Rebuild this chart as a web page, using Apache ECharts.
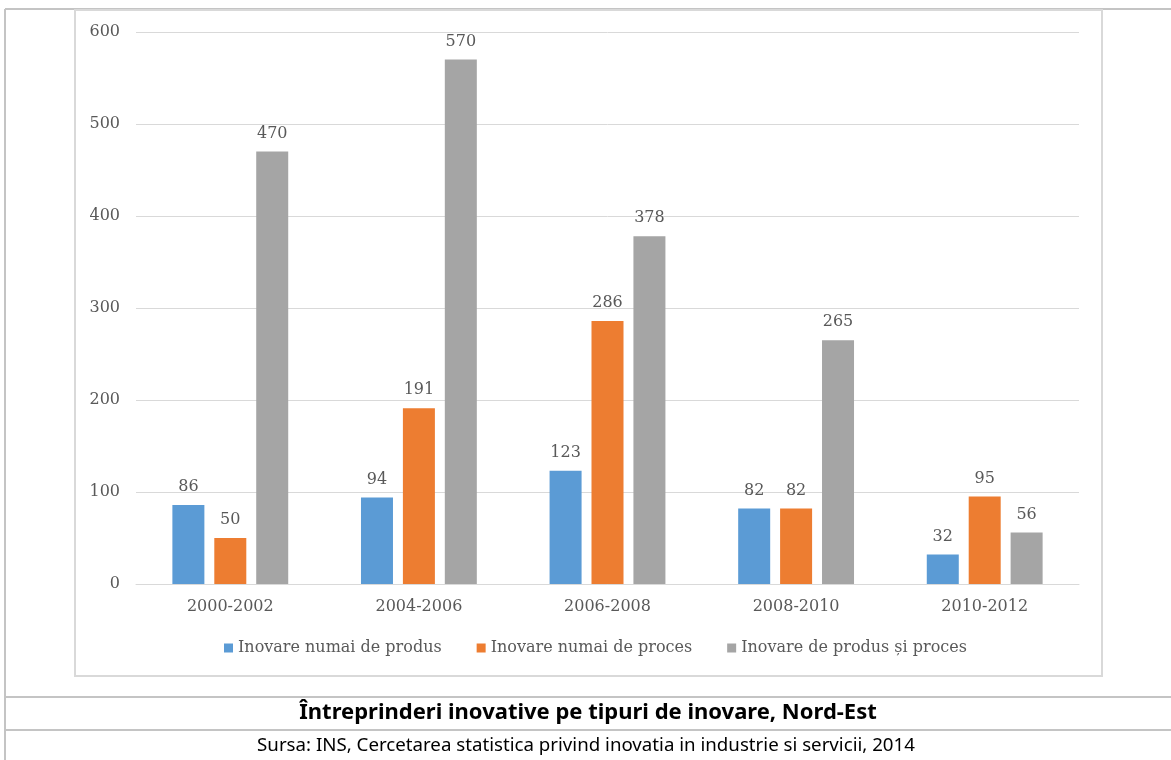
<!DOCTYPE html>
<html>
<head>
<meta charset="utf-8">
<script src="https://cdn.jsdelivr.net/npm/echarts@6/dist/echarts.min.js"></script>
<style>
  html, body { margin: 0; padding: 0; background: #fff; }
  #chart { width: 1171px; height: 760px; }
</style>
</head>
<body>
<div id="chart"></div>
<script>
// perioade
const categories = ['2000-2002', '2004-2006', '2006-2008', '2008-2010', '2010-2012']
// serii
const seriesNames = ['Inovare numai de produs', 'Inovare numai de proces', 'Inovare de produs și proces']
const produs = [86, 94, 123, 82, 32]
const proces = [50, 191, 286, 82, 95]
const produsSiProces = [470, 570, 378, 265, 56]
const yTicks = { min: 0, max: 600, interval: 100 }

const titleText = 'Întreprinderi inovative pe tipuri de inovare, Nord-Est'
const sourceText = 'Sursa: INS, Cercetarea statistica privind inovatia in industrie si servicii, 2014'

const colors = ['#5b9bd5', '#ed7d31', '#a5a5a5']
const serifFont = 'DejaVu Serif'
const textGrey = '#595959'
const borderGrey = '#c4c4c4'

function makeSeries (name, values, color) {
  return {
    name: name,
    type: 'bar',
    data: values,
    barWidth: 32,
    barGap: '31%',
    itemStyle: { color: color },
    label: {
      show: true,
      position: 'top',
      distance: 10,
      color: textGrey,
      fontFamily: serifFont,
      fontSize: 16
    }
  }
}

let myChart = echarts.init(document.getElementById('chart'))
myChart.setOption({
  animation: false,
  color: colors,
  grid: { left: 136, right: 92, top: 32, bottom: 176, containLabel: false },
  legend: {
    bottom: 99,
    left: 219,
    itemWidth: 9,
    itemHeight: 9,
    itemGap: 35,
    icon: 'rect',
    textStyle: { color: textGrey, fontFamily: serifFont, fontSize: 16, padding: [0, 0, 0, 0] },
    data: seriesNames
  },
  xAxis: {
    type: 'category',
    data: categories,
    axisLine: { lineStyle: { color: '#d9d9d9', width: 1 } },
    axisTick: { show: false },
    axisLabel: { color: textGrey, fontFamily: serifFont, fontSize: 16, margin: 15 }
  },
  yAxis: {
    type: 'value',
    min: yTicks.min,
    max: yTicks.max,
    interval: yTicks.interval,
    axisLine: { show: false },
    axisTick: { show: false },
    splitLine: { lineStyle: { color: '#d9d9d9', width: 1 } },
    axisLabel: { color: textGrey, fontFamily: serifFont, fontSize: 16, margin: 16 }
  },
  series: [
    makeSeries(seriesNames[0], produs, colors[0]),
    makeSeries(seriesNames[1], proces, colors[1]),
    makeSeries(seriesNames[2], produsSiProces, colors[2])
  ],
  graphic: [
    // chenarul tabelului
    { type: 'line', shape: { x1: 5, y1: 9, x2: 1171, y2: 9 }, style: { stroke: borderGrey, lineWidth: 2 } },
    { type: 'line', shape: { x1: 5, y1: 9, x2: 5, y2: 760 }, style: { stroke: borderGrey, lineWidth: 2 } },
    { type: 'line', shape: { x1: 5, y1: 697, x2: 1171, y2: 697 }, style: { stroke: borderGrey, lineWidth: 2 } },
    { type: 'line', shape: { x1: 5, y1: 730, x2: 1171, y2: 730 }, style: { stroke: borderGrey, lineWidth: 2 } },
    // chenarul graficului
    { type: 'rect', shape: { x: 75, y: 10, width: 1027, height: 666 }, style: { fill: 'none', stroke: '#d9d9d9', lineWidth: 2 } },
    {
      type: 'text', x: 588, y: 713,
      style: { text: titleText, fill: '#000', font: 'bold 22px "Noto Sans"', align: 'center', verticalAlign: 'middle' }
    },
    {
      type: 'text', x: 586, y: 746,
      style: { text: sourceText, fill: '#000', font: '18.7px "Noto Sans"', align: 'center', verticalAlign: 'middle' }
    }
  ]
})
</script>
</body>
</html>
